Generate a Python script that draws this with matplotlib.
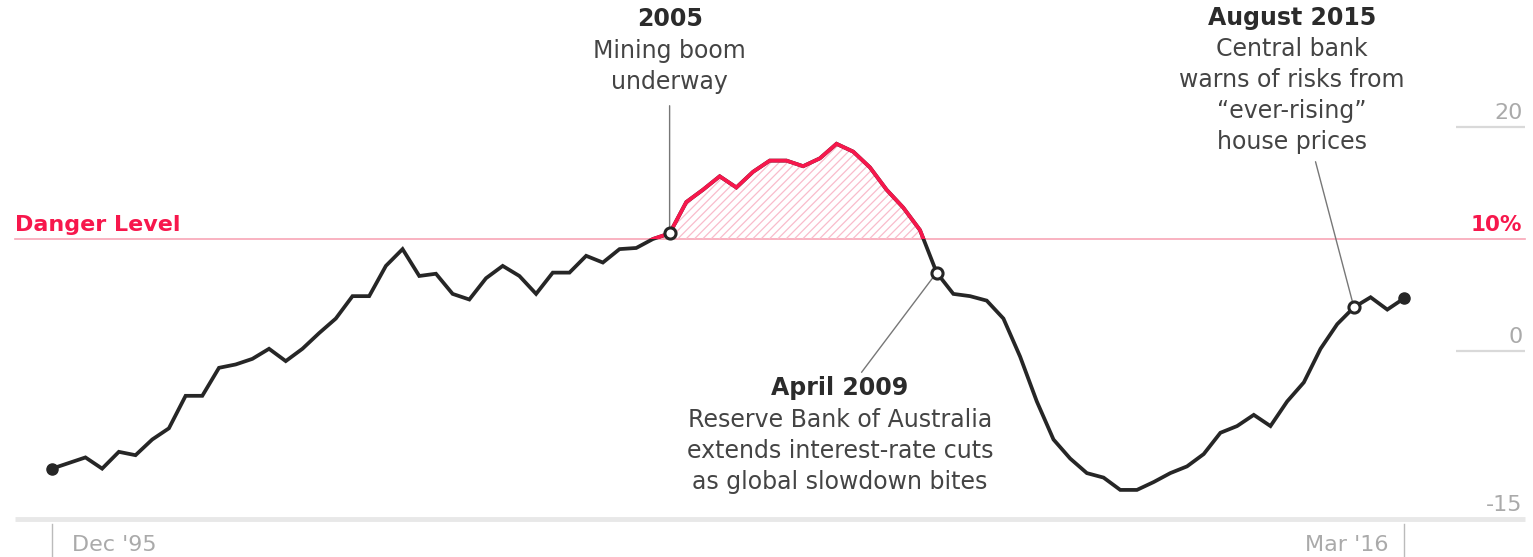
import numpy as np
import pandas as pd
import matplotlib.pyplot as plt
from matplotlib.patches import Rectangle

# Australian house prices, year-on-year change (%), quarterly
quarters = pd.period_range('1995Q4', '2016Q1', freq='Q')
growth = [
    -10.5, -10.0, -9.5, -10.5, -9.0, -9.3, -7.9, -6.9, -4.0, -4.0,
    -1.5, -1.2, -0.7, 0.2, -0.9, 0.2, 1.6, 2.9, 4.9, 4.9,
    7.6, 9.1, 6.7, 6.9, 5.1, 4.6, 6.5, 7.6, 6.7, 5.1,
    7.0, 7.0, 8.5, 7.9, 9.1, 9.2, 10.0, 10.5, 13.3, 14.4,
    15.6, 14.6, 16.0, 17.0, 17.0, 16.5, 17.2, 18.5, 17.8, 16.4,
    14.4, 12.8, 10.8, 7.0, 5.1, 4.9, 4.5, 2.9, -0.5, -4.5,
    -7.9, -9.6, -10.9, -11.3, -12.4, -12.4, -11.7, -10.9, -10.3, -9.2,
    -7.3, -6.7, -5.7, -6.7, -4.5, -2.8, 0.2, 2.4, 3.9, 4.8,
    3.7, 4.7,
]
danger = 10
yticks = [20, 0, -15]
xtick_labels = ["Dec '95", "Mar '16"]

events = [
    ('2005', ['Mining boom', 'underway'], '2005Q1'),
    ('April 2009', ['Reserve Bank of Australia', 'extends interest-rate cuts',
                    'as global slowdown bites'], '2009Q1'),
    ('August 2015', ['Central bank', 'warns of risks from', '\u201cever-rising\u201d',
                     'house prices'], '2015Q2'),
]

RED = '#f7174c'
PINK = '#f8a5b6'
DARK = '#262626'
TEXT = '#444444'
GREY = '#aaaaaa'

plt.rcParams['font.family'] = ['DejaVu Sans']
plt.rcParams['hatch.linewidth'] = 0.9

x = np.arange(len(quarters))
v = np.array(growth)

fig = plt.figure(figsize=(15.33, 5.57), dpi=100)
ax = fig.add_axes([0, 0, 1, 1])
ax.axis('off')
ax.set_xlim(-3.12, 88.73)
ax.set_ylim(-18.39, 31.34)

# axis furniture: short gridlines at the right, full baseline at the bottom
left, right = -2.22, 88.26
for t in yticks:
    if t == yticks[-1]:
        ax.plot([left, right], [t, t], color='#e8e8e8', lw=3.5, solid_capstyle='butt', zorder=1)
    else:
        ax.plot([84.1, right], [t, t], color='#d9d9d9', lw=1.6, solid_capstyle='butt', zorder=1)
    ax.annotate(f'{t}', (right, t), xytext=(-2, 3), textcoords='offset points',
                ha='right', va='bottom', fontsize=16, color=GREY)

# danger level
ax.plot([left, right], [danger, danger], color=PINK, lw=1.2, zorder=2)
ax.annotate('Danger Level', (left, danger), xytext=(0, 3), textcoords='offset points',
            ha='left', va='bottom', fontsize=16, fontweight='bold', color=RED)
ax.annotate(f'{danger}%', (right, danger), xytext=(-2, 3), textcoords='offset points',
            ha='right', va='bottom', fontsize=15.5, fontweight='bold', color=RED)

# hatched area above the danger level
ax.fill_between(x, danger, v, where=v >= danger, interpolate=True,
                facecolor='none', edgecolor='#f9bccb', hatch='////', linewidth=0, zorder=2)

# the series, red where it is above the danger level
ax.plot(x, v, color=DARK, lw=2.7, zorder=3, solid_joinstyle='miter')
red_line, = ax.plot(x, v, color=RED, lw=2.7, zorder=4, solid_joinstyle='miter')
clip = Rectangle((x[0] - 5, danger), len(x) + 10, 50, transform=ax.transData)
red_line.set_clip_path(clip)

ax.plot(x[[0, -1]], v[[0, -1]], 'o', color=DARK, ms=8, zorder=5)

# x ticks
for xi, lab, ha, dx in [(x[0], xtick_labels[0], 'left', 14), (x[-1], xtick_labels[1], 'right', -11)]:
    ax.plot([xi, xi], [-15.45, -18.4], color='#bbbbbb', lw=1, zorder=1)
    ax.annotate(lab, (xi, -17.3), xytext=(dx, 0), textcoords='offset points',
                ha=ha, va='center', fontsize=16, color=GREY)

# event annotations
layout = {
    '2005': dict(tx=37.0, ty=[29.6, 26.8, 24.0], leader=(37.0, 21.9)),
    'April 2009': dict(tx=47.2, ty=[-3.3, -6.15, -8.95, -11.7], leader=(48.5, -1.9)),
    'August 2015': dict(tx=74.3, ty=[29.7, 26.95, 24.2, 21.45, 18.7], leader=(75.7, 16.9)),
}
for title, lines, q in events:
    i = quarters.get_loc(pd.Period(q, freq='Q'))
    spec = layout[title]
    ax.annotate('', xy=(x[i], v[i]), xytext=spec['leader'],
                arrowprops=dict(arrowstyle='-', color='#777777', lw=1, shrinkA=0, shrinkB=4),
                zorder=3)
    ax.plot(x[i], v[i], 'o', ms=8, mfc='white', mec=DARK, mew=2.2, zorder=6)
    ax.text(spec['tx'], spec['ty'][0], title, ha='center', va='center',
            fontsize=17, fontweight='bold', color='#2b2b2b')
    for line, ty in zip(lines, spec['ty'][1:]):
        ax.text(spec['tx'], ty, line, ha='center', va='center', fontsize=17, color=TEXT)

fig.savefig('out.png', dpi=100)
